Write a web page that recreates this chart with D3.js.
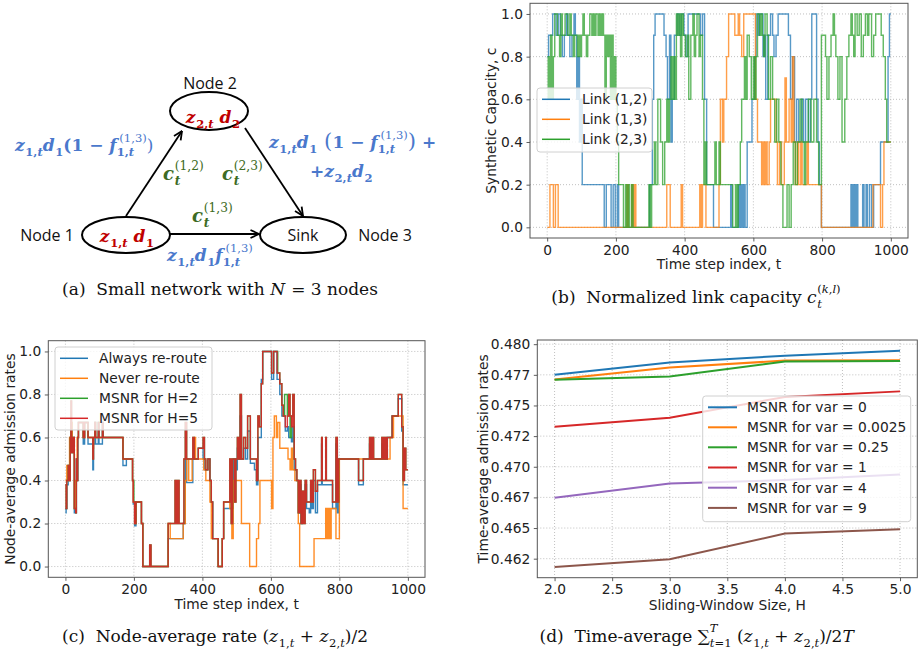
<!DOCTYPE html>
<html>
<head>
<meta charset="utf-8">
<script src="https://cdn.jsdelivr.net/npm/d3@7"></script>
<style>
body { margin: 0; background: #fff; }
svg { display: block; }
text { white-space: pre; }
.grid { stroke: #b0b0b0; stroke-width: 0.8; stroke-dasharray: 1,2; }
</style>
</head>
<body>
<svg id="fig" width="918" height="658"></svg>
<script>
// ===============================
// Data
// ===============================

// (b) normalized link capacity, step series as [t, value] change points
const timeTicks = [0, 200, 400, 600, 800, 1000];
const unitTicks = [0, 0.2, 0.4, 0.6, 0.8, 1.0];
const linkNames = ["Link (1,2)", "Link (1,3)", "Link (2,3)"];

const link12 = [[0,0.8],[4,0.9],[16,1.0],[26,0.9],[32,1.0],[38,0.9],[44,0.8],[50,0.9],[56,1.0],[60,0.9],[66,0.8],[72,0.9],[78,1.0],[82,0.9],[86,0.6],[90,0.8],[94,0.4],[98,0.6],[102,0.2],[166,0.0],[172,0.2],[186,0.0],[192,0.2],[198,0.0],[204,0.2],[208,0.0],[298,0.2],[306,0.6],[310,0.9],[314,1.0],[340,0.9],[346,0.8],[350,0.6],[356,0.9],[360,0.4],[364,0.6],[370,0.9],[378,1.0],[384,0.9],[390,1.0],[398,0.9],[404,0.8],[410,1.0],[446,0.9],[452,1.0],[458,0.6],[464,0.2],[484,0.0],[534,0.2],[538,0.0],[556,0.2],[560,0.0],[564,0.2],[568,0.0],[572,0.2],[576,0.0],[582,0.4],[596,0.6],[604,0.8],[608,1.0],[614,0.9],[618,1.0],[628,0.8],[632,0.9],[636,0.6],[642,0.9],[650,1.0],[656,0.9],[660,0.8],[666,0.9],[672,1.0],[702,0.9],[708,0.6],[714,0.8],[720,0.4],[726,0.6],[732,0.4],[740,0.6],[746,0.4],[752,0.6],[760,0.4],[766,0.6],[770,1.0],[784,0.6],[788,0.4],[792,0.2],[798,0.0],[884,0.2],[888,0.0],[892,0.2],[896,0.0],[900,0.2],[904,0.0],[918,0.2],[922,0.0],[928,0.2],[932,0.0],[938,0.2],[944,0.0],[950,0.2],[970,0.4],[992,0.8],[996,1.0],[1000,1.0]];

const link13 = [[0,0.0],[8,0.2],[18,0.0],[24,0.2],[32,0.0],[232,0.2],[236,0.0],[246,0.2],[250,0.0],[254,0.2],[258,0.0],[348,0.2],[358,0.0],[390,0.2],[394,0.0],[444,0.2],[448,0.0],[452,0.2],[462,0.0],[500,0.2],[504,0.6],[510,0.4],[514,0.6],[522,0.8],[528,1.0],[546,0.9],[556,1.0],[560,0.9],[566,0.8],[572,1.0],[606,0.6],[612,0.4],[624,0.2],[628,0.4],[632,0.2],[636,0.4],[640,0.2],[646,0.4],[650,0.6],[666,0.4],[670,0.2],[676,0.4],[682,0.2],[690,0.4],[692,0.7],[696,0.4],[704,0.6],[710,0.4],[714,0.8],[718,0.4],[722,0.2],[728,0.4],[732,0.2],[738,0.4],[742,0.2],[756,0.4],[760,0.2],[798,0.0],[948,0.2],[970,0.0],[976,0.2],[980,0.4],[1000,0.4]];

const link23 = [[0,0.6],[3,0.8],[6,0.6],[10,0.9],[14,0.6],[18,0.8],[22,1.0],[30,0.9],[36,0.8],[40,1.0],[44,0.9],[52,1.0],[60,0.9],[66,1.0],[70,0.9],[76,0.8],[80,0.9],[88,0.8],[92,0.9],[96,0.8],[100,0.9],[104,1.0],[108,0.9],[114,0.8],[118,0.9],[124,1.0],[130,0.9],[134,1.0],[138,0.9],[142,1.0],[148,0.9],[152,1.0],[156,0.9],[160,1.0],[164,0.9],[168,0.6],[172,0.9],[176,0.8],[180,0.9],[184,0.6],[188,0.9],[192,0.6],[196,0.8],[200,0.6],[204,0.4],[208,0.2],[222,0.0],[228,0.2],[232,0.0],[236,0.2],[240,0.0],[246,0.2],[250,0.0],[296,0.2],[300,0.0],[304,0.2],[312,0.4],[316,0.2],[322,0.6],[330,0.4],[336,0.2],[342,0.4],[348,0.6],[352,0.4],[356,0.6],[360,0.8],[364,0.6],[368,0.8],[372,0.6],[376,1.0],[380,0.9],[384,1.0],[388,0.8],[392,1.0],[396,0.9],[402,0.8],[408,0.9],[412,0.6],[418,0.9],[424,1.0],[428,0.8],[432,0.9],[436,1.0],[442,0.8],[446,0.9],[452,0.6],[456,0.2],[460,0.4],[464,0.2],[488,0.4],[492,0.2],[500,0.4],[504,0.2],[540,0.0],[548,0.2],[552,0.0],[556,0.2],[562,0.4],[566,0.6],[574,0.8],[578,0.6],[582,0.9],[588,0.8],[594,0.6],[600,0.8],[604,0.6],[608,0.8],[612,1.0],[618,0.9],[622,1.0],[626,0.9],[630,0.8],[634,1.0],[640,0.9],[644,0.6],[650,0.8],[656,0.6],[662,0.4],[668,0.6],[674,0.4],[680,0.2],[686,0.0],[698,0.2],[704,0.0],[710,0.2],[716,0.4],[722,0.2],[728,0.4],[736,0.6],[742,0.4],[748,0.2],[752,0.4],[760,0.6],[768,0.4],[776,0.6],[784,0.4],[790,0.2],[798,0.9],[810,0.8],[814,0.6],[820,0.8],[826,0.9],[832,1.0],[836,0.9],[840,0.8],[846,0.6],[852,0.8],[858,0.4],[866,0.6],[872,0.8],[878,0.9],[884,1.0],[888,0.9],[892,0.8],[896,1.0],[902,0.9],[908,1.0],[914,0.8],[920,0.9],[926,1.0],[932,0.9],[936,1.0],[944,0.8],[950,0.9],[956,1.0],[972,0.9],[978,0.8],[984,0.6],[988,0.4],[1000,0.4]];

// (c) node-average admission rates, step series as [t, value] change points
const rateNames = ["Always re-route", "Never re-route", "MSNR for H=2", "MSNR for H=5"];

const rateAlways = [[0,0.25],[2,0.27],[4,0.38],[8,0.47],[12,0.4],[14,0.6],[16,0.67],[18,0.53],[22,0.6],[26,0.25],[32,0.5],[34,0.4],[36,0.6],[38,0.67],[52,0.57],[56,0.67],[66,0.57],[80,0.45],[82,0.57],[86,0.67],[88,0.57],[96,0.67],[98,0.57],[108,0.67],[110,0.6],[168,0.47],[178,0.5],[196,0.4],[198,0.29],[202,0.19],[206,0.3],[222,0.2],[226,0.0],[300,0.13],[344,0.2],[350,0.5],[354,0.39],[372,0.5],[388,0.55],[402,0.5],[406,0.45],[416,0.5],[422,0.4],[426,0.3],[430,0.13],[446,0.0],[458,0.13],[462,0.27],[490,0.5],[498,0.45],[502,0.55],[506,0.5],[510,0.7],[514,0.5],[520,0.55],[526,0.5],[532,0.63],[540,0.48],[552,0.45],[558,0.38],[562,0.6],[572,0.87],[576,1.0],[602,0.87],[608,1.0],[618,0.87],[626,0.8],[632,0.7],[642,0.63],[648,0.65],[652,0.6],[660,0.58],[664,0.65],[668,0.45],[674,0.4],[680,0.25],[684,0.38],[688,0.2],[692,0.27],[700,0.38],[704,0.27],[712,0.25],[716,0.38],[720,0.27],[724,0.4],[730,0.25],[736,0.38],[748,0.57],[750,0.38],[780,0.27],[790,0.57],[794,0.25],[798,0.5],[856,0.38],[870,0.5],[888,0.57],[892,0.5],[924,0.57],[928,0.5],[940,0.6],[954,0.7],[972,0.78],[982,0.63],[986,0.38],[1000,0.38]];

const rateNever = [[0,0.4],[4,0.47],[8,0.4],[12,0.6],[16,0.67],[20,0.53],[26,0.27],[30,0.4],[34,0.6],[38,0.67],[52,0.6],[56,0.67],[66,0.6],[80,0.55],[82,0.6],[86,0.67],[88,0.6],[168,0.5],[196,0.4],[198,0.3],[202,0.2],[206,0.3],[222,0.2],[226,0.0],[300,0.2],[306,0.13],[344,0.2],[350,0.4],[354,0.5],[360,0.4],[370,0.5],[376,0.6],[380,0.5],[404,0.45],[410,0.4],[422,0.3],[426,0.13],[446,0.0],[458,0.13],[462,0.3],[480,0.27],[486,0.13],[490,0.4],[514,0.2],[538,0.0],[558,0.13],[564,0.2],[568,0.4],[602,0.27],[606,0.6],[610,0.7],[616,0.6],[620,0.67],[626,0.55],[650,0.5],[656,0.45],[660,0.55],[664,0.45],[670,0.4],[680,0.2],[684,0.0],[726,0.13],[760,0.27],[764,0.13],[768,0.27],[772,0.13],[776,0.27],[790,0.13],[800,0.5],[948,0.6],[958,0.7],[986,0.27],[1000,0.27]];

const rateH2 = [[0,0.38],[2,0.27],[4,0.4],[8,0.47],[12,0.4],[14,0.6],[16,0.77],[18,0.53],[22,0.6],[26,0.27],[30,0.25],[32,0.5],[34,0.4],[36,0.6],[38,0.67],[52,0.6],[56,0.67],[66,0.6],[80,0.5],[82,0.6],[86,0.67],[88,0.6],[96,0.67],[98,0.6],[108,0.67],[110,0.6],[168,0.5],[196,0.4],[200,0.3],[204,0.2],[206,0.3],[222,0.2],[226,0.0],[246,0.1],[250,0.0],[300,0.2],[320,0.4],[324,0.2],[328,0.4],[332,0.2],[346,0.5],[350,0.67],[354,0.5],[372,0.6],[376,0.5],[388,0.55],[402,0.6],[406,0.5],[410,0.45],[416,0.5],[422,0.4],[426,0.3],[430,0.13],[446,0.0],[458,0.13],[462,0.3],[480,0.5],[484,0.2],[488,0.5],[494,0.3],[498,0.5],[502,0.6],[506,0.5],[510,0.8],[514,0.5],[520,0.6],[526,0.55],[532,0.7],[540,0.5],[558,0.4],[562,0.7],[566,0.65],[572,0.85],[576,1.0],[602,0.9],[608,1.0],[620,0.9],[626,0.85],[632,0.75],[636,0.7],[640,0.8],[648,0.7],[652,0.8],[656,0.6],[660,0.7],[664,0.8],[668,0.5],[672,0.45],[676,0.4],[680,0.25],[684,0.4],[688,0.2],[692,0.35],[696,0.2],[700,0.4],[704,0.3],[712,0.3],[716,0.4],[720,0.3],[724,0.45],[730,0.35],[736,0.4],[748,0.6],[750,0.4],[760,0.6],[762,0.4],[780,0.3],[790,0.6],[794,0.3],[798,0.5],[856,0.4],[870,0.5],[888,0.6],[892,0.5],[896,0.6],[900,0.5],[924,0.6],[928,0.5],[932,0.6],[936,0.5],[940,0.6],[954,0.7],[972,0.8],[982,0.65],[986,0.4],[990,0.55],[994,0.45],[1000,0.45]];

const rateH5 = [[0,0.38],[2,0.27],[4,0.4],[8,0.47],[12,0.4],[14,0.6],[16,0.77],[18,0.53],[22,0.6],[26,0.27],[30,0.25],[32,0.5],[34,0.4],[36,0.6],[38,0.67],[52,0.6],[56,0.67],[66,0.6],[80,0.5],[82,0.6],[86,0.67],[88,0.6],[96,0.67],[98,0.6],[108,0.67],[110,0.6],[168,0.5],[196,0.4],[198,0.3],[202,0.2],[206,0.3],[222,0.2],[226,0.0],[246,0.1],[250,0.0],[300,0.2],[320,0.4],[324,0.2],[328,0.4],[332,0.2],[346,0.5],[350,0.67],[354,0.5],[372,0.6],[376,0.5],[388,0.55],[402,0.6],[406,0.5],[410,0.45],[416,0.5],[422,0.4],[426,0.3],[430,0.13],[446,0.0],[458,0.13],[462,0.3],[480,0.5],[484,0.2],[488,0.5],[494,0.3],[498,0.5],[502,0.6],[506,0.5],[510,0.8],[514,0.5],[520,0.6],[526,0.55],[532,0.7],[540,0.5],[558,0.4],[562,0.7],[566,0.65],[572,0.85],[576,1.0],[602,0.9],[608,1.0],[618,0.9],[626,0.85],[632,0.75],[636,0.7],[642,0.65],[648,0.7],[652,0.8],[656,0.7],[660,0.65],[664,0.8],[668,0.5],[672,0.45],[676,0.4],[680,0.25],[684,0.4],[688,0.2],[692,0.35],[696,0.2],[700,0.4],[704,0.3],[712,0.3],[716,0.4],[720,0.3],[724,0.45],[730,0.35],[736,0.4],[748,0.6],[750,0.4],[760,0.6],[762,0.4],[780,0.3],[790,0.6],[794,0.3],[798,0.5],[856,0.4],[870,0.5],[888,0.6],[892,0.5],[896,0.6],[900,0.5],[924,0.6],[928,0.5],[932,0.6],[936,0.5],[940,0.6],[954,0.7],[972,0.8],[982,0.65],[986,0.4],[990,0.55],[994,0.45],[1000,0.45]];

// (d) time-average admission rate vs sliding-window size
const windowSizes = [2, 3, 4, 5];
const windowTicks = [2.0, 2.5, 3.0, 3.5, 4.0, 4.5, 5.0];
const varNames = ["MSNR for var = 0", "MSNR for var = 0.0025", "MSNR for var = 0.25",
                  "MSNR for var = 1", "MSNR for var = 4", "MSNR for var = 9"];
const avgVar0    = [0.47750, 0.47850, 0.47906, 0.47946];
const avgVar0025 = [0.47712, 0.47809, 0.47866, 0.47869];
const avgVar025  = [0.47710, 0.47737, 0.47858, 0.47863];
const avgVar1    = [0.47327, 0.47400, 0.47570, 0.47615];
const avgVar4    = [0.46748, 0.46864, 0.46891, 0.46936];
const avgVar9    = [0.46183, 0.46245, 0.46455, 0.46490];
const avgTicks = [0.4625, 0.465, 0.4675, 0.47, 0.4725, 0.475, 0.4775, 0.48];
const avgTickLabels = ["0.462", "0.465", "0.467", "0.470", "0.472", "0.475", "0.477", "0.480"];

// ===============================
// Shared helpers
// ===============================
const svg = d3.select("#fig");
const FONT = "'DejaVu Sans', sans-serif";
const FS = 13.8;
const tab10 = ["#1f77b4", "#ff7f0e", "#2ca02c", "#d62728", "#9467bd", "#8c564b"];

// one run of math text: letters italic, digits / punctuation upright
function mrun(g, x, y, str, size, st, plain, weight) {
    const t = g.append("text").attr("x", x).attr("y", y)
        .attr("font-family", st.family).attr("font-size", size)
        .attr("font-weight", weight || st.weight || "normal").attr("fill", st.fill);
    (str.match(/[A-Za-z]+|[^A-Za-z]+/g) || []).forEach(s => {
        t.append("tspan")
            .attr("font-style", !plain && /[A-Za-z]/.test(s) ? "italic" : "normal")
            .text(s);
    });
    return t.node().getComputedTextLength();
}

function mathText(g, x, y, parts, size, st) {
    const grp = g.append("g");
    let cx = x;
    parts.forEach(p => {
        if (typeof p === "string") p = { t: p };
        const k = p.k || 1;
        if (p.t) cx += mrun(grp, cx, y, p.t, size * k, st, true, p.w);
        if (p.m) cx += mrun(grp, cx, y, p.m, size * k, st, false) + size * 0.04;
        let w = 0;
        if (p.sub) w = Math.max(w, mrun(grp, cx + size * (p.subX || 0), y + size * 0.3, p.sub, size * 0.68, st, false) + size * (p.subX || 0));
        if (p.sup) w = Math.max(w, mrun(grp, cx + size * (p.supX || 0), y - size * (p.up || 0.45), p.sup, size * 0.68, st, false, p.supW) + size * (p.supX || 0));
        cx += w + (p.gap || 0);
    });
    if (st.anchor === "middle") grp.attr("transform", `translate(${-(cx - x) / 2},0)`);
    return cx - x;
}

function drawGrid(box, x, y, xTicks, yTicks) {
    const g = svg.append("g");
    g.selectAll(null).data(xTicks).join("line").attr("class", "grid")
        .attr("x1", d => x(d)).attr("x2", d => x(d))
        .attr("y1", box.top).attr("y2", box.bottom);
    g.selectAll(null).data(yTicks).join("line").attr("class", "grid")
        .attr("x1", box.left).attr("x2", box.right)
        .attr("y1", d => y(d)).attr("y2", d => y(d));
}

function drawAxes(box, x, y, xTicks, yTicks, xFmt, yFmt, xLabel, yLabel, yLabelX, xLabelY) {
    const ax = svg.append("g").attr("transform", `translate(0,${box.bottom})`)
        .call(d3.axisBottom(x).tickValues(xTicks).tickFormat(xFmt).tickSize(3.5).tickPadding(3.5));
    const ay = svg.append("g").attr("transform", `translate(${box.left},0)`)
        .call(d3.axisLeft(y).tickValues(yTicks).tickFormat(yFmt).tickSize(3.5).tickPadding(3.5));
    [ax, ay].forEach(a => {
        a.select(".domain").remove();
        a.selectAll("line").attr("stroke", "#333").attr("stroke-width", 0.8);
        a.selectAll("text").attr("font-family", FONT).attr("font-size", FS).attr("fill", "#222");
    });
    svg.append("rect")
        .attr("x", box.left).attr("y", box.top)
        .attr("width", box.right - box.left).attr("height", box.bottom - box.top)
        .attr("fill", "none").attr("stroke", "#555").attr("stroke-width", 1);
    svg.append("text")
        .attr("x", (box.left + box.right) / 2).attr("y", xLabelY)
        .attr("text-anchor", "middle").attr("font-family", FONT).attr("font-size", FS)
        .attr("fill", "#222").text(xLabel);
    svg.append("text")
        .attr("transform", `translate(${yLabelX},${(box.top + box.bottom) / 2}) rotate(-90)`)
        .attr("text-anchor", "middle").attr("dy", "0.35em")
        .attr("font-family", FONT).attr("font-size", FS)
        .attr("fill", "#222").text(yLabel);
}

function drawLegend(box, rowY, names, colors, lineX, textX, lw) {
    svg.append("rect")
        .attr("x", box.left).attr("y", box.top)
        .attr("width", box.right - box.left).attr("height", box.bottom - box.top)
        .attr("rx", 3).attr("fill", "#fff").attr("fill-opacity", 0.8)
        .attr("stroke", "#d0d0d0").attr("stroke-width", 1);
    const rows = svg.append("g").selectAll("g").data(names).join("g");
    rows.append("line")
        .attr("x1", lineX[0]).attr("x2", lineX[1])
        .attr("y1", (d, i) => rowY[i]).attr("y2", (d, i) => rowY[i])
        .attr("stroke", (d, i) => colors[i]).attr("stroke-width", lw);
    rows.append("text")
        .attr("x", textX).attr("y", (d, i) => rowY[i]).attr("dy", "0.36em")
        .attr("font-family", FONT).attr("font-size", FS).attr("fill", "#222")
        .text(d => d);
}

const capStyle = { family: "'DejaVu Serif', serif", fill: "#111", anchor: "middle" };
const CAP = 17;

// ===============================
// (a) Small network diagram
// ===============================
function networkDiagram() {
    const g = svg.append("g");
    const nodes = [
        { id: "n1", cx: 126, cy: 235, rx: 44, ry: 18 },
        { id: "n2", cx: 209, cy: 111, rx: 39, ry: 19 },
        { id: "sink", cx: 303, cy: 235, rx: 43, ry: 18 }
    ];
    const edges = [
        { x1: 126, y1: 216, x2: 182, y2: 131 },
        { x1: 245, y1: 128, x2: 303, y2: 216 },
        { x1: 170, y1: 234, x2: 259, y2: 234 }
    ];

    svg.append("defs").append("marker")
        .attr("id", "arr").attr("viewBox", "0 0 10 10")
        .attr("refX", 9.5).attr("refY", 5)
        .attr("markerWidth", 10).attr("markerHeight", 10)
        .attr("markerUnits", "userSpaceOnUse").attr("orient", "auto")
        .append("path").attr("d", "M1,1 L9.5,5 L1,9")
        .attr("fill", "none").attr("stroke", "#000").attr("stroke-width", 1.8);

    g.selectAll(".edge").data(edges).join("line")
        .attr("x1", d => d.x1).attr("y1", d => d.y1)
        .attr("x2", d => d.x2).attr("y2", d => d.y2)
        .attr("stroke", "#000").attr("stroke-width", 1.8)
        .attr("marker-end", "url(#arr)");

    g.selectAll(".node").data(nodes).join("ellipse")
        .attr("cx", d => d.cx).attr("cy", d => d.cy)
        .attr("rx", d => d.rx).attr("ry", d => d.ry)
        .attr("fill", "#fff").attr("stroke", "#000").attr("stroke-width", 2);

    const sans = (x, y, s) => g.append("text").attr("x", x).attr("y", y)
        .attr("text-anchor", "middle").attr("font-family", "'Open Sans', sans-serif")
        .attr("font-size", 16).attr("fill", "#111").text(s);
    sans(210, 89, "Node 2");
    sans(47, 241, "Node 1");
    sans(385, 241, "Node 3");
    sans(303, 241, "Sink");

    const serif = "'DejaVu Serif', serif";
    const red = { family: serif, weight: "bold", fill: "#c00000", anchor: "middle" };
    const blue = { family: serif, weight: "bold", fill: "#4a78cc" };
    const green = { family: serif, weight: "bold", fill: "#3d6b24" };
    const fPart = { m: "f", sub: "1,t", sup: "(1,3)", up: 0.55, supX: 0.12, subX: -0.04, supW: "normal" };

    mathText(g, 213, 123, [{ m: "z", sub: "2,t" }, " ", { m: "d", sub: "2" }], 17, red);
    mathText(g, 127, 242, [{ m: "z", sub: "1,t" }, " ", { m: "d", sub: "1" }], 17, red);

    mathText(g, 15, 151, [{ m: "z", sub: "1,t" }, { m: "d", sub: "1" }, "(1 − ",
        fPart, { t: ")", w: "normal" }], 17, blue);
    mathText(g, 269, 148, [{ m: "z", sub: "1,t" }, { m: "d", sub: "1" }, { t: " (", k: 1.25, w: "normal" }, "1 − ",
        fPart, { t: ")", k: 1.25, w: "normal" }, " +"], 17, blue);
    mathText(g, 310, 177, ["+", { m: "z", sub: "2,t" }, { m: "d", sub: "2" }], 17, blue);
    mathText(g, 167, 261, [{ m: "z", sub: "1,t" }, { m: "d", sub: "1" }, fPart], 17, blue);

    mathText(g, 163, 180, [{ m: "c", sub: "t", sup: "(1,2)", up: 0.55, supW: "normal" }], 18, green);
    mathText(g, 222, 180, [{ m: "c", sub: "t", sup: "(2,3)", up: 0.55, supW: "normal" }], 18, green);
    mathText(g, 192, 222, [{ m: "c", sub: "t", sup: "(1,3)", up: 0.55, supW: "normal" }], 18, green);

    mathText(svg, 220, 295, ["(a)  Small network with ", { m: "N" }, " = 3 nodes"], CAP, capStyle);
}

// ===============================
// (b) Normalized link capacity
// ===============================
function linkCapacityChart() {
    const box = { left: 530, right: 908, top: 3.3, bottom: 238 };
    const x = d3.scaleLinear().domain([-50, 1050]).range([box.left, box.right]);
    const y = d3.scaleLinear().domain([-0.05, 1.05]).range([box.bottom, box.top]);

    drawGrid(box, x, y, timeTicks, unitTicks);

    const line = d3.line().x(d => x(d[0])).y(d => y(d[1])).curve(d3.curveStepAfter);
    [link12, link13, link23].forEach((s, i) => {
        svg.append("path").datum(s)
            .attr("fill", "none").attr("stroke", tab10[i])
            .attr("stroke-width", 1.4).attr("stroke-opacity", 0.75)
            .attr("d", line);
    });

    drawAxes(box, x, y, timeTicks, unitTicks, d3.format("d"), d3.format(".1f"),
        "Time step index, t", "Synthetic Capacity, c", 491.5, 269);

    drawLegend({ left: 537, right: 652, top: 88, bottom: 152 }, [99.3, 119.3, 139.3],
        linkNames, tab10, [542, 570], 582, 1.5);

    mathText(svg, 696, 303, ["(b)  Normalized link capacity ",
        { m: "c", sub: "t", sup: "(k,l)", up: 0.6 }], CAP, capStyle);
}

// ===============================
// (c) Node-average admission rate
// ===============================
function nodeAverageChart() {
    const box = { left: 48.3, right: 425, top: 340.7, bottom: 577.3 };
    const x = d3.scaleLinear().domain([-50, 1050]).range([box.left, box.right]);
    const y = d3.scaleLinear().domain([-0.05, 1.05]).range([box.bottom, box.top]);

    drawGrid(box, x, y, timeTicks, unitTicks);

    const line = d3.line().x(d => x(d[0])).y(d => y(d[1])).curve(d3.curveStepAfter);
    [rateAlways, rateNever, rateH2, rateH5].forEach((s, i) => {
        svg.append("path").datum(s)
            .attr("fill", "none").attr("stroke", tab10[i])
            .attr("stroke-width", 1.4).attr("stroke-opacity", 0.9)
            .attr("d", line);
    });

    drawAxes(box, x, y, timeTicks, unitTicks, d3.format("d"), d3.format(".1f"),
        "Time step index, t", "Node-average admission rates", 10, 608.5);

    drawLegend({ left: 55, right: 212, top: 347, bottom: 430 }, [358.3, 378.3, 398.3, 418.3],
        rateNames, tab10, [60, 88], 99, 1.5);

    mathText(svg, 215, 642, ["(c)  Node-average rate ", "(", { m: "z", sub: "1,t" }, " + ",
        { m: "z", sub: "2,t" }, ")/2"], CAP, capStyle);
}

// ===============================
// (d) Time-average vs window size
// ===============================
function timeAverageChart() {
    const box = { left: 537.3, right: 917.3, top: 340, bottom: 577.7 };
    const series = [avgVar0, avgVar0025, avgVar025, avgVar1, avgVar4, avgVar9];
    const all = series.flat();
    const lo = d3.min(all), hi = d3.max(all), pad = (hi - lo) * 0.05;

    const x = d3.scaleLinear().domain([1.85, 5.15]).range([box.left, box.right]);
    const y = d3.scaleLinear().domain([lo - pad, hi + pad]).range([box.bottom, box.top]);

    drawGrid(box, x, y, windowTicks, avgTicks);

    const line = d3.line().x((d, i) => x(windowSizes[i])).y(d => y(d));
    series.forEach((s, i) => {
        svg.append("path").datum(s)
            .attr("fill", "none").attr("stroke", tab10[i])
            .attr("stroke-width", 2)
            .attr("d", line);
    });

    drawAxes(box, x, y, windowTicks, avgTicks, d3.format(".1f"), (d, i) => avgTickLabels[i],
        "Sliding-Window Size, H", "Time-average admission rates", 482.7, 609.5);

    drawLegend({ left: 702.7, right: 910.7, top: 396, bottom: 521.7 },
        [407.3, 427.3, 447.3, 467.5, 487.7, 507.9], varNames, tab10, [708, 737], 747, 2);

    mathText(svg, 697, 642, ["(d)  Time-average ", { t: "∑", sub: "t=1", sup: "T", up: 0.6 }, " (",
        { m: "z", sub: "1,t" }, " + ", { m: "z", sub: "2,t" }, ")/2", { m: "T" }], CAP, capStyle);
}

networkDiagram();
linkCapacityChart();
nodeAverageChart();
timeAverageChart();
</script>
</body>
</html>
